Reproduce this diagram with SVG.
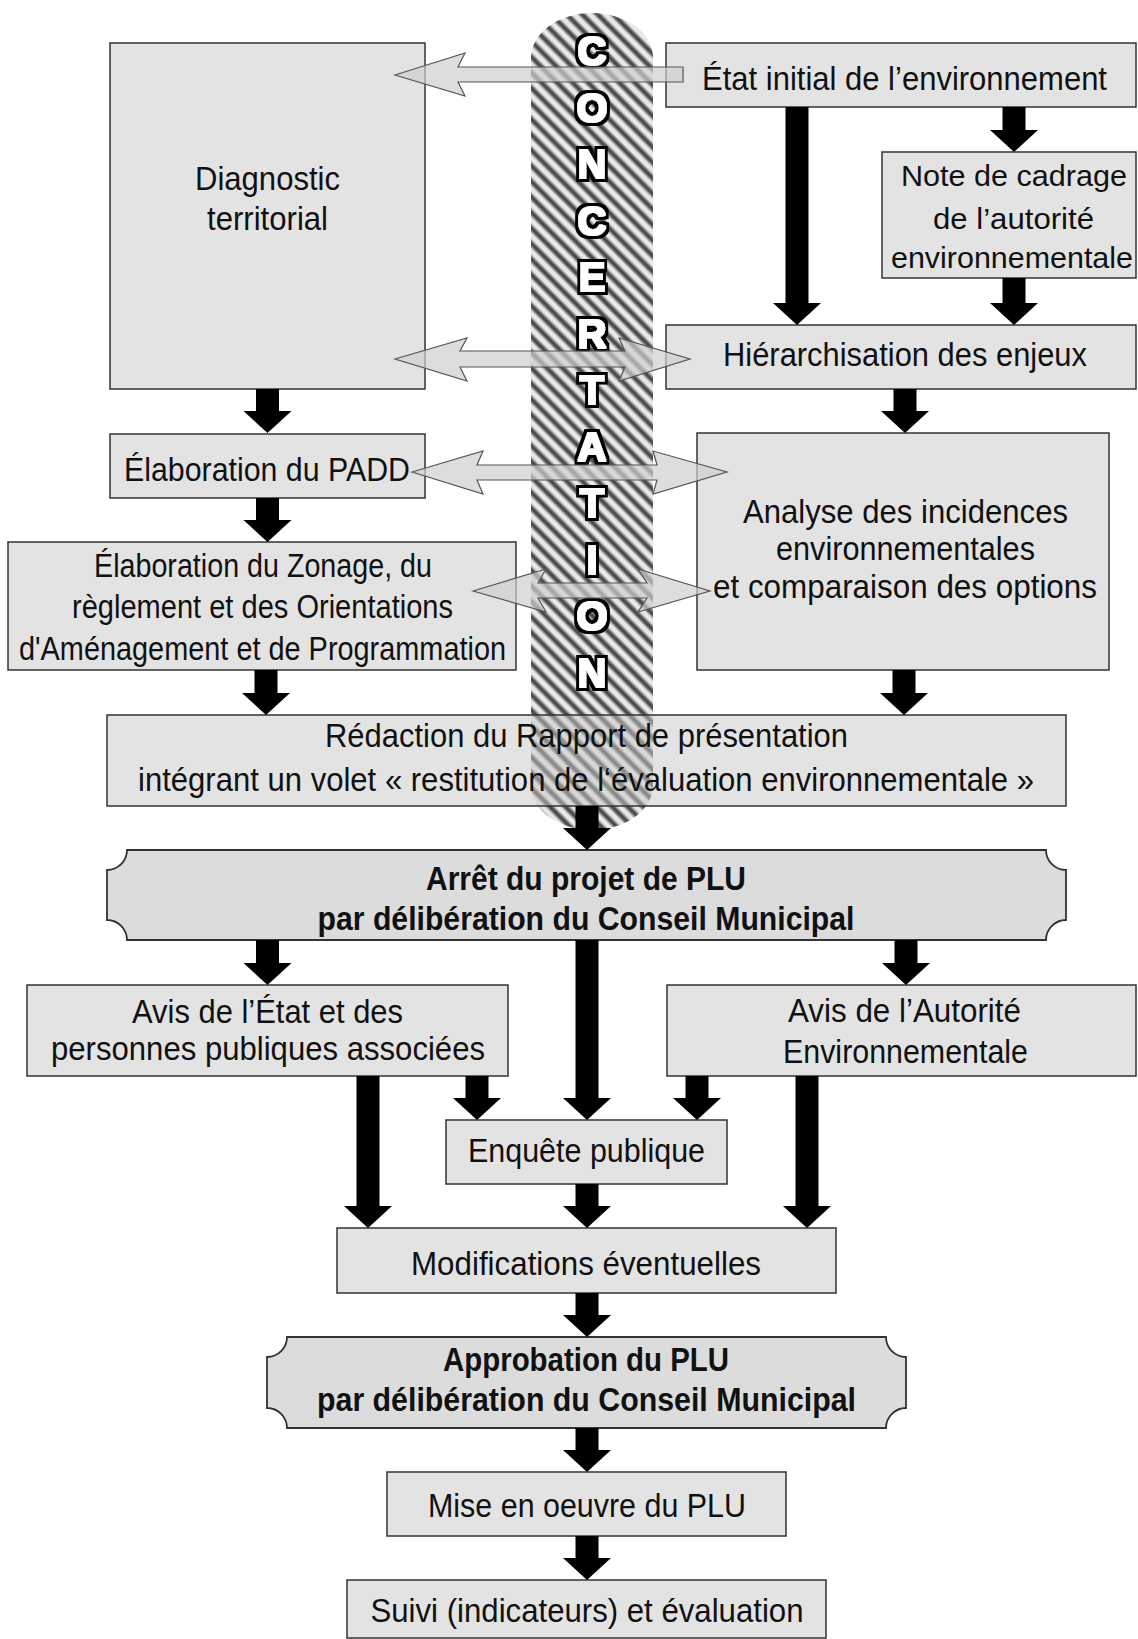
<svg xmlns="http://www.w3.org/2000/svg" width="1138" height="1639" viewBox="0 0 1138 1639">
<defs>
<style>
.box{fill:#e3e3e3;stroke:#333;stroke-width:1.5}
.boxt{fill:#c8c8c8;fill-opacity:.5;stroke:#333;stroke-width:1.5}
.scroll{fill:#dcdcdc;stroke:#333;stroke-width:1.8}
.t{font-family:"Liberation Sans Narrow","Liberation Sans",Arial,sans-serif;font-size:33px;fill:#111;text-anchor:middle}
.s{font-size:30px}
.b{font-weight:bold}
.arr{fill:#000}
.dbl{fill:#cfcfcf;fill-opacity:.7;stroke:#555;stroke-width:1.2;stroke-linejoin:miter}
.cl{font-family:"Liberation Sans",Arial,sans-serif;font-weight:bold;font-size:40px;fill:#fff;text-anchor:middle;filter:url(#outline)}
</style>
<filter id="outline" x="-30%" y="-30%" width="160%" height="160%">
<feMorphology in="SourceAlpha" operator="dilate" radius="4" result="big"/>
<feFlood flood-color="#000" result="blackc"/>
<feComposite in="blackc" in2="big" operator="in" result="blk"/>
<feMorphology in="SourceAlpha" operator="dilate" radius="1.4" result="mid"/>
<feFlood flood-color="#fff" result="whitec"/>
<feComposite in="whitec" in2="mid" operator="in" result="wht"/>
<feMerge><feMergeNode in="blk"/><feMergeNode in="wht"/></feMerge>
</filter>
<linearGradient id="sg" x1="0" y1="0" x2="0" y2="1">
<stop offset="0" stop-color="#ececec"/>
<stop offset="0.15" stop-color="#e4e4e4"/>
<stop offset="0.42" stop-color="#4a4a4a"/>
<stop offset="0.58" stop-color="#4a4a4a"/>
<stop offset="0.85" stop-color="#e4e4e4"/>
<stop offset="1" stop-color="#ececec"/>
</linearGradient>
<pattern id="stripes" width="11" height="11" patternUnits="userSpaceOnUse" patternTransform="rotate(45)">
<rect width="11" height="11" fill="url(#sg)"/>
</pattern>
</defs>
<rect width="1138" height="1639" fill="#fff"/>

<g id="concertation">
<rect x="531" y="13" width="122" height="817" rx="61" ry="45" fill="url(#stripes)"/>
<text class="cl"><tspan x="592" y="65">C</tspan><tspan x="592" y="121.5">O</tspan><tspan x="592" y="178">N</tspan><tspan x="592" y="234.5">C</tspan><tspan x="592" y="291">E</tspan><tspan x="592" y="347.5">R</tspan><tspan x="592" y="404">T</tspan><tspan x="592" y="460.5">A</tspan><tspan x="592" y="517">T</tspan><tspan x="592" y="573.5">I</tspan><tspan x="592" y="630">O</tspan><tspan x="592" y="686.5">N</tspan></text>
</g>

<g id="diagnostic">
<rect class="box" x="110" y="43" width="315" height="346"/>
<text class="t" x="267.5" y="190" textLength="145" lengthAdjust="spacingAndGlyphs">Diagnostic</text>
<text class="t" x="267.5" y="230" textLength="121" lengthAdjust="spacingAndGlyphs">territorial</text>
</g>
<g id="etat-initial">
<rect class="box" x="666" y="43" width="470" height="64"/>
<text class="t" x="904.5" y="90" textLength="405" lengthAdjust="spacingAndGlyphs">État initial de l’environnement</text>
</g>
<g id="note-cadrage">
<rect class="box" x="882" y="152" width="254" height="126"/>
<text class="t s" x="1014" y="186" textLength="226" lengthAdjust="spacingAndGlyphs">Note de cadrage</text>
<text class="t s" x="1013.5" y="229" textLength="161" lengthAdjust="spacingAndGlyphs">de l’autorité</text>
<text class="t s" x="1012" y="268" textLength="242" lengthAdjust="spacingAndGlyphs">environnementale</text>
</g>
<g id="hierarchisation">
<rect class="box" x="666" y="325" width="470" height="64"/>
<text class="t" x="905" y="366" textLength="364" lengthAdjust="spacingAndGlyphs">Hiérarchisation des enjeux</text>
</g>
<g id="padd">
<rect class="box" x="110" y="434" width="315" height="64"/>
<text class="t" x="267" y="481" textLength="286" lengthAdjust="spacingAndGlyphs">Élaboration du PADD</text>
</g>
<g id="zonage">
<rect class="box" x="8" y="542" width="508" height="128"/>
<text class="t" x="263" y="577" textLength="338" lengthAdjust="spacingAndGlyphs">Élaboration du Zonage, du</text>
<text class="t" x="262.5" y="618" textLength="381" lengthAdjust="spacingAndGlyphs">règlement et des Orientations</text>
<text class="t" x="262.5" y="660" textLength="487" lengthAdjust="spacingAndGlyphs">d'Aménagement et de Programmation</text>
</g>
<g id="analyse">
<rect class="box" x="697" y="433" width="412" height="237"/>
<text class="t" x="905.5" y="523" textLength="325" lengthAdjust="spacingAndGlyphs">Analyse des incidences</text>
<text class="t" x="905.5" y="560" textLength="259" lengthAdjust="spacingAndGlyphs">environnementales</text>
<text class="t" x="905" y="598" textLength="384" lengthAdjust="spacingAndGlyphs">et comparaison des options</text>
</g>
<g id="redaction">
<rect class="boxt" x="107" y="715" width="959" height="91"/>
<text class="t" x="586.5" y="747" textLength="523" lengthAdjust="spacingAndGlyphs">Rédaction du Rapport de présentation</text>
<text class="t" x="586" y="791" textLength="896" lengthAdjust="spacingAndGlyphs">intégrant un volet « restitution de l‘évaluation environnementale »</text>
</g>
<g id="arret">
<path class="scroll" d="M127,850 H1046 A20,20 0 0 0 1066,870 V920 A20,20 0 0 0 1046,940 H127 A20,20 0 0 0 107,920 V870 A20,20 0 0 0 127,850 Z"/>
<text class="t b" x="586" y="890" textLength="320" lengthAdjust="spacingAndGlyphs">Arrêt du projet de PLU</text>
<text class="t b" x="586" y="930" textLength="537" lengthAdjust="spacingAndGlyphs">par délibération du Conseil Municipal</text>
</g>
<g id="avis-etat">
<rect class="box" x="27" y="985" width="481" height="91"/>
<text class="t" x="267.5" y="1023" textLength="271" lengthAdjust="spacingAndGlyphs">Avis de l’État et des</text>
<text class="t" x="268" y="1060" textLength="434" lengthAdjust="spacingAndGlyphs">personnes publiques associées</text>
</g>
<g id="avis-autorite">
<rect class="box" x="667" y="985" width="469" height="91"/>
<text class="t" x="904.5" y="1022" textLength="233" lengthAdjust="spacingAndGlyphs">Avis de l’Autorité</text>
<text class="t" x="905.5" y="1063" textLength="245" lengthAdjust="spacingAndGlyphs">Environnementale</text>
</g>
<g id="enquete">
<rect class="box" x="446" y="1120" width="281" height="64"/>
<text class="t" x="586.5" y="1162" textLength="237" lengthAdjust="spacingAndGlyphs">Enquête publique</text>
</g>
<g id="modifications">
<rect class="box" x="337" y="1228" width="499" height="65"/>
<text class="t" x="586" y="1275" textLength="350" lengthAdjust="spacingAndGlyphs">Modifications éventuelles</text>
</g>
<g id="approbation">
<path class="scroll" d="M287,1337 H886 A20,20 0 0 0 906,1357 V1408 A20,20 0 0 0 886,1428 H287 A20,20 0 0 0 267,1408 V1357 A20,20 0 0 0 287,1337 Z"/>
<text class="t b" x="586" y="1371" textLength="286" lengthAdjust="spacingAndGlyphs">Approbation du PLU</text>
<text class="t b" x="586.5" y="1411" textLength="539" lengthAdjust="spacingAndGlyphs">par délibération du Conseil Municipal</text>
</g>
<g id="mise-en-oeuvre">
<rect class="box" x="387" y="1472" width="399" height="64"/>
<text class="t" x="587" y="1517" textLength="318" lengthAdjust="spacingAndGlyphs">Mise en oeuvre du PLU</text>
</g>
<g id="suivi">
<rect class="box" x="347" y="1580" width="479" height="58"/>
<text class="t" x="587" y="1622" textLength="433" lengthAdjust="spacingAndGlyphs">Suivi (indicateurs) et évaluation</text>
</g>

<g id="connectors">
<path class="arr" d="M256,389 H279 V411 H291.5 L267.5,433 L243.5,411 H256 Z"/>
<path class="arr" d="M256,498 H279 V520 H291.5 L267.5,542 L243.5,520 H256 Z"/>
<path class="arr" d="M254.5,670 H277.5 V693 H290 L266,715 L242,693 H254.5 Z"/>
<path class="arr" d="M785.5,107 H808.5 V303 H821 L797,325 L773,303 H785.5 Z"/>
<path class="arr" d="M1002.5,107 H1025.5 V130 H1038 L1014,152 L990,130 H1002.5 Z"/>
<path class="arr" d="M1002.5,278 H1025.5 V303 H1038 L1014,325 L990,303 H1002.5 Z"/>
<path class="arr" d="M893.5,389 H916.5 V411 H929 L905,433 L881,411 H893.5 Z"/>
<path class="arr" d="M892.5,670 H915.5 V693 H928 L904,715 L880,693 H892.5 Z"/>
<path class="arr" d="M575.5,806 H598.5 V828 H611 L587,850 L563,828 H575.5 Z"/>
<path class="arr" d="M256,940 H279 V963 H291.5 L267.5,985 L243.5,963 H256 Z"/>
<path class="arr" d="M575.5,940 H598.5 V1098 H611 L587,1120 L563,1098 H575.5 Z"/>
<path class="arr" d="M894.5,940 H917.5 V963 H930 L906,985 L882,963 H894.5 Z"/>
<path class="arr" d="M356.5,1076 H379.5 V1206 H392 L368,1228 L344,1206 H356.5 Z"/>
<path class="arr" d="M465.5,1076 H488.5 V1098 H501 L477,1120 L453,1098 H465.5 Z"/>
<path class="arr" d="M685.5,1076 H708.5 V1098 H721 L697,1120 L673,1098 H685.5 Z"/>
<path class="arr" d="M795.5,1076 H818.5 V1206 H831 L807,1228 L783,1206 H795.5 Z"/>
<path class="arr" d="M575.5,1184 H598.5 V1206 H611 L587,1228 L563,1206 H575.5 Z"/>
<path class="arr" d="M575.5,1293 H598.5 V1315 H611 L587,1337 L563,1315 H575.5 Z"/>
<path class="arr" d="M575.5,1428 H598.5 V1450 H611 L587,1472 L563,1450 H575.5 Z"/>
<path class="arr" d="M575.5,1536 H598.5 V1558 H611 L587,1580 L563,1558 H575.5 Z"/>
<polygon class="dbl" points="395,75 465,53 458,67 683,67 683,82 458,82 465,96"/>
<polygon class="dbl" points="395,359 467,338 460,351 625,351 619,338 690,359 619,381 625,367 460,367 467,381"/>
<polygon class="dbl" points="412,472 483,451 477,465 657,465 653,451 727,472 653,494 657,480 477,480 483,494"/>
<polygon class="dbl" points="473,591 546,569 538,583 647,583 638,569 710,591 638,612 647,598 538,598 546,612"/>
</g>
</svg>
